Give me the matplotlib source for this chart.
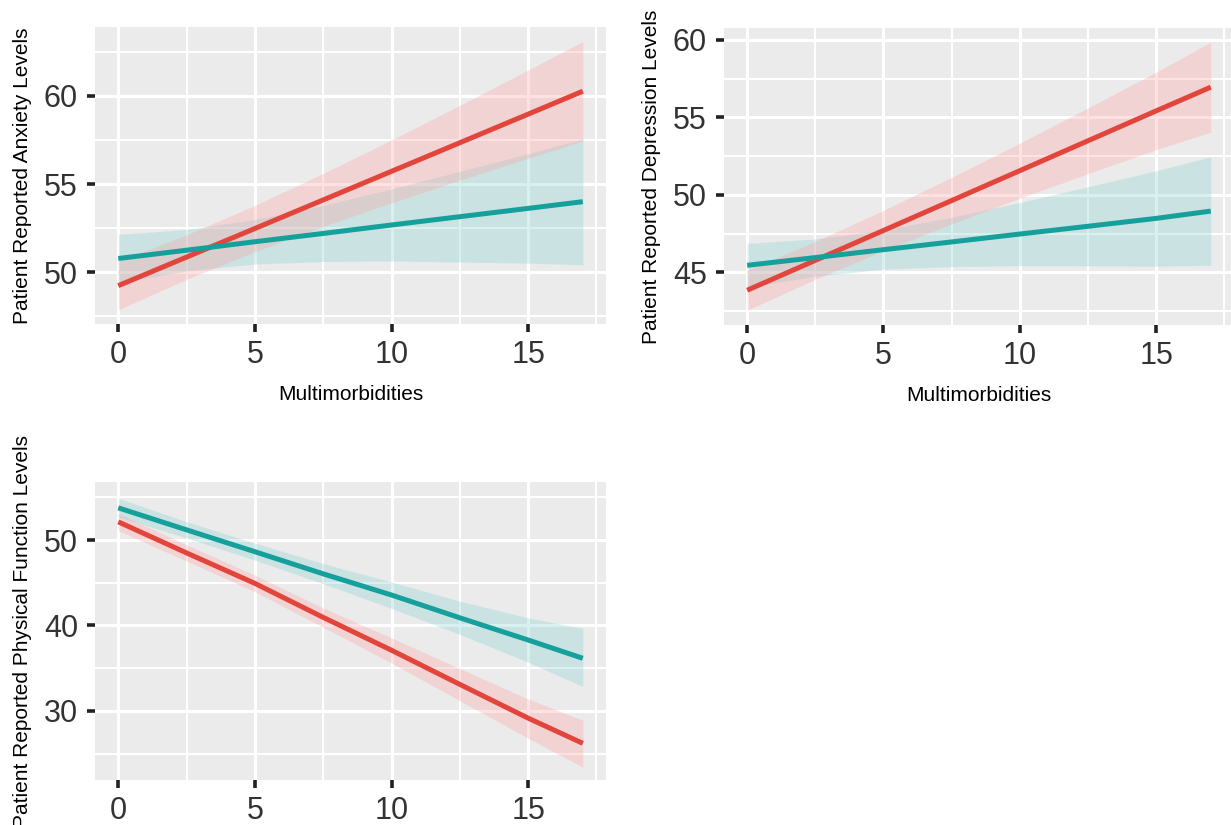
import numpy as np
import matplotlib
matplotlib.use("Agg")
import matplotlib.pyplot as plt

plt.rcParams['font.family'] = ['Liberation Sans', 'DejaVu Sans']

x_pts = [0, 2.5, 5, 7.5, 10, 12.5, 15, 17]

# Anxiety
anx_red = [49.24, 50.86, 52.48, 54.10, 55.72, 57.34, 58.96, 60.26]
anx_red_lo = [47.87, 49.60, 51.17, 52.60, 53.94, 55.22, 56.46, 57.44]
anx_red_hi = [50.61, 52.12, 53.79, 55.60, 57.50, 59.46, 61.46, 63.08]
anx_teal = [50.78, 51.25, 51.73, 52.20, 52.68, 53.15, 53.62, 54.00]
anx_teal_lo = [49.41, 50.08, 50.47, 50.61, 50.64, 50.58, 50.52, 50.42]
anx_teal_hi = [52.15, 52.42, 52.99, 53.79, 54.72, 55.72, 56.72, 57.55]

# Depression
dep_red = [43.84, 45.77, 47.70, 49.63, 51.56, 53.49, 55.42, 56.95]
dep_red_lo = [42.55, 44.55, 46.40, 48.13, 49.78, 51.37, 52.92, 54.05]
dep_red_hi = [45.13, 46.99, 49.00, 51.13, 53.34, 55.61, 57.92, 59.85]
dep_teal = [45.45, 45.95, 46.46, 46.96, 47.47, 47.97, 48.48, 48.95]
dep_teal_lo = [44.03, 44.75, 45.20, 45.37, 45.43, 45.42, 45.40, 45.45]
dep_teal_hi = [46.87, 47.15, 47.72, 48.55, 49.51, 50.52, 51.56, 52.45]

# Physical function
phy_red = [52.14, 48.50, 44.93, 40.95, 37.10, 33.10, 29.15, 26.20]
phy_red_lo = [51.10, 47.55, 43.95, 39.80, 35.60, 31.20, 26.80, 23.40]
phy_red_hi = [53.10, 49.45, 45.90, 42.05, 38.55, 34.95, 31.40, 28.90]
phy_teal = [53.78, 51.20, 48.64, 46.05, 43.57, 40.90, 38.30, 36.16]
phy_teal_lo = [52.70, 50.25, 47.65, 44.90, 42.00, 38.95, 35.70, 32.85]
phy_teal_hi = [54.90, 52.15, 49.65, 47.25, 45.10, 42.85, 40.90, 39.67]

xticks = [0, 5, 10, 15]

panels = [
    dict(pos=[0.0772, 0.6073, 0.4151, 0.3600], ylabel='Patient Reported Anxiety Levels',
         ylim=(47.07, 63.9), yticks=[50, 55, 60], yminor=[47.5, 52.5, 57.5, 62.5],
         red=(anx_red, anx_red_lo, anx_red_hi), teal=(anx_teal, anx_teal_lo, anx_teal_hi),
         xlabel=True),
    dict(pos=[0.5881, 0.6061, 0.4143, 0.3600], ylabel='Patient Reported Depression Levels',
         ylim=(41.6, 60.77), yticks=[45, 50, 55, 60], yminor=[42.5, 47.5, 52.5, 57.5],
         red=(dep_red, dep_red_lo, dep_red_hi), teal=(dep_teal, dep_teal_lo, dep_teal_hi),
         xlabel=True),
    dict(pos=[0.0772, 0.0545, 0.4151, 0.3612], ylabel='Patient Reported Physical Function Levels',
         ylim=(21.9, 56.8), yticks=[30, 40, 50], yminor=[25, 35, 45, 55],
         red=(phy_red, phy_red_lo, phy_red_hi), teal=(phy_teal, phy_teal_lo, phy_teal_hi),
         xlabel=False),
]

red_col = '#E2453B'
teal_col = '#15A09C'
red_fill = '#FF9E9E'
teal_fill = '#7FD0D0'
bg = '#EBEBEB'

fig = plt.figure(figsize=(12.31, 8.25), dpi=100)

for p in panels:
    ax = fig.add_axes(p['pos'])
    ax.set_facecolor(bg)
    for s in ax.spines.values():
        s.set_visible(False)
    ax.set_xlim(-0.85, 17.85)
    ax.set_ylim(*p['ylim'])
    ax.set_xticks(xticks)
    ax.set_yticks(p['yticks'])
    ax.set_xticks([2.5, 7.5, 12.5, 17.5], minor=True)
    ax.set_yticks(p['yminor'], minor=True)
    ax.grid(which='major', color='white', linewidth=2.2)
    ax.grid(which='minor', color='white', linewidth=1.5)
    ax.set_axisbelow(True)
    ax.tick_params(which='major', length=5.8, width=2.6, color='#222222',
                   labelsize=22, labelcolor='#333333')
    ax.tick_params(axis='y', which='major', pad=6.5)
    ax.tick_params(axis='x', which='major', pad=6)
    ax.tick_params(which='minor', length=0)

    ax.fill_between(x_pts, p['teal'][1], p['teal'][2], color=teal_fill, alpha=0.3, linewidth=0)
    ax.fill_between(x_pts, p['red'][1], p['red'][2], color=red_fill, alpha=0.3, linewidth=0)
    ax.plot(x_pts, p['red'][0], color=red_col, linewidth=3.6, solid_capstyle='butt')
    ax.plot(x_pts, p['teal'][0], color=teal_col, linewidth=3.6, solid_capstyle='butt')

    ax.set_ylabel(p['ylabel'], fontsize=15, color='black', labelpad=8.5)
    if p['xlabel']:
        ax.set_xlabel('Multimorbidities', fontsize=15, color='black', labelpad=10.5)

fig.savefig('out.png', dpi=100)
